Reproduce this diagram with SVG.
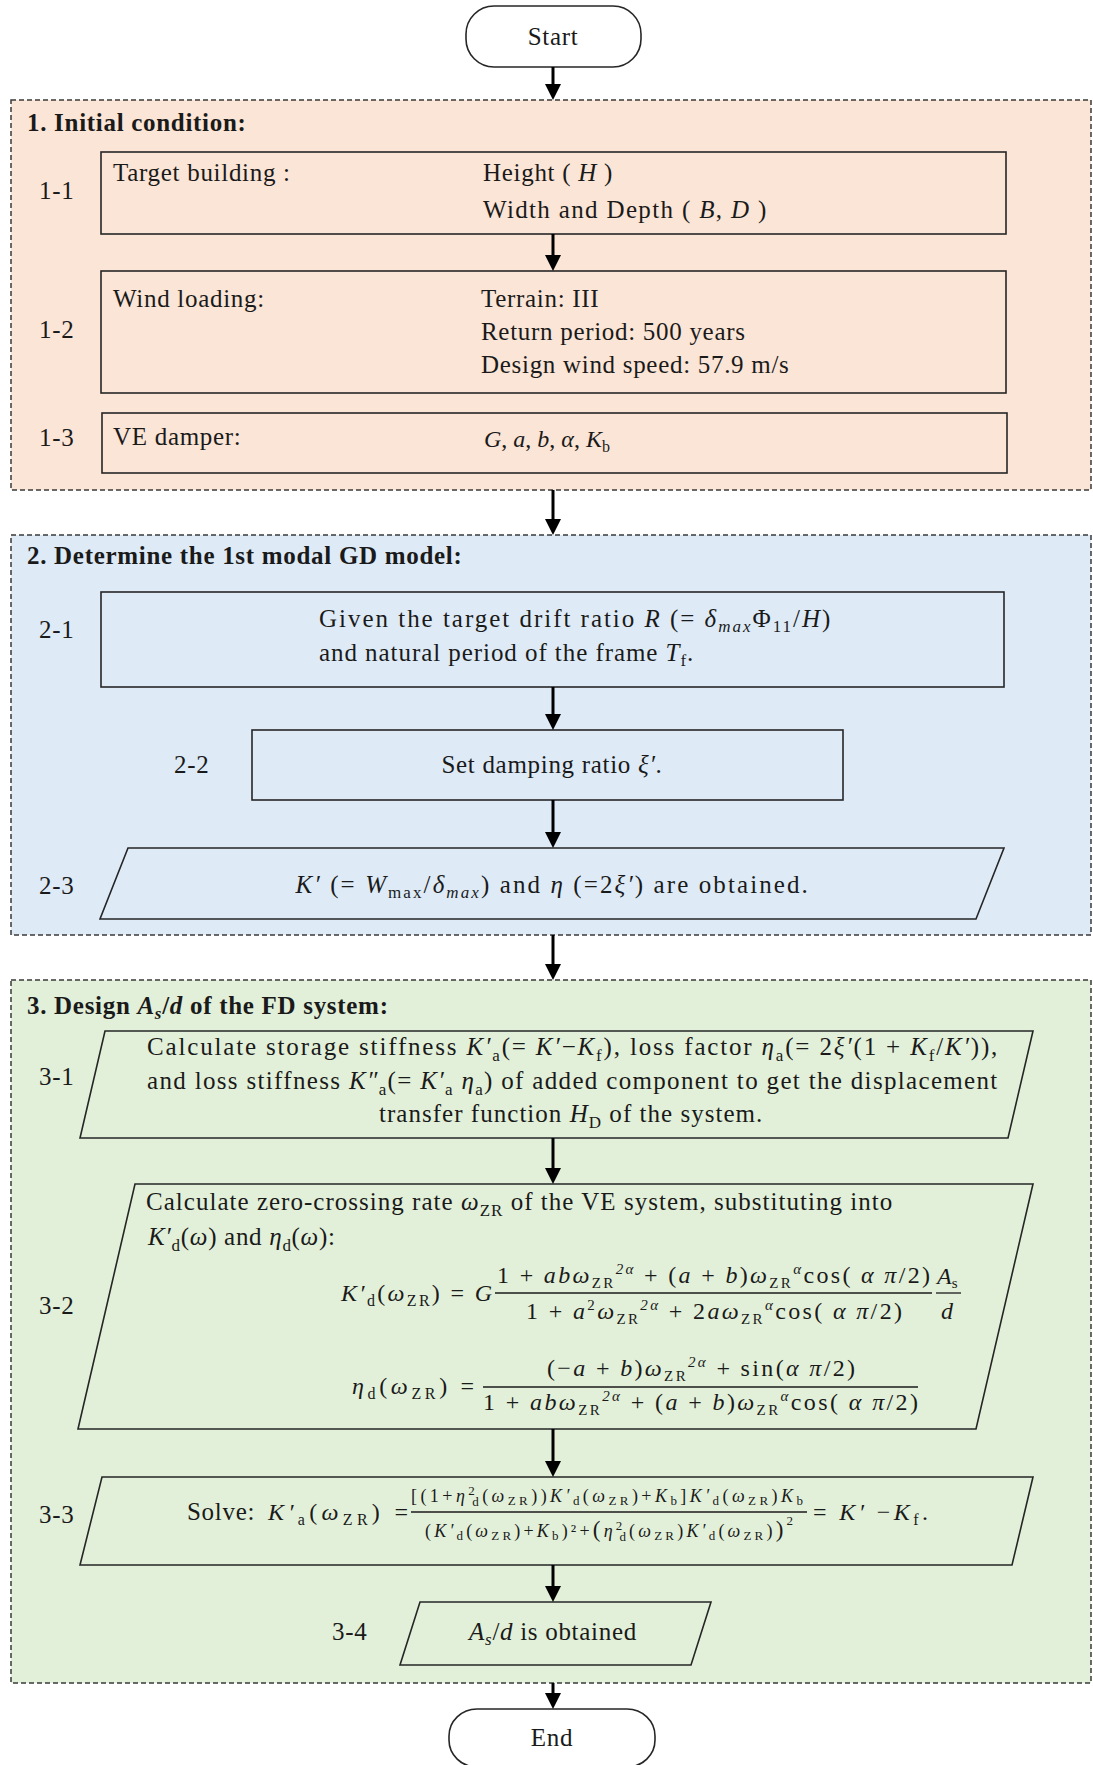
<svg xmlns="http://www.w3.org/2000/svg" width="1093" height="1765" viewBox="0 0 1093 1765">
<style>
text{font-family:"Liberation Serif","Times New Roman",serif;fill:#1a1a1a}
.t{font-size:25px;letter-spacing:0.7px}
.h{font-size:25px;font-weight:bold;letter-spacing:0.7px}
.m{font-size:24px}
.f{font-size:18px}
.i{font-style:italic}
.box{stroke:#262626;stroke-width:1.6;fill:none}
.sec{stroke:#3a3a3a;stroke-width:1.5;stroke-dasharray:5 3}
.term{fill:#ffffff;stroke:#262626;stroke-width:1.6}
.arr{stroke:#000;stroke-width:3;fill:none;marker-end:url(#ah)}
.bar{stroke:#1a1a1a;stroke-width:1.3}
</style>
<defs>
<marker id="ah" markerUnits="userSpaceOnUse" markerWidth="16" markerHeight="16" refX="12" refY="8" orient="auto" viewBox="0 0 16 16"><path d="M0,0 L16,8 L0,16 z" fill="#000"/></marker>
</defs>
<rect width="1093" height="1765" fill="#ffffff"/>

<g id="section1">
<rect class="sec" x="11" y="100" width="1080" height="390" fill="#FBE5D6"/>
<text class="h" x="27" y="131">1. Initial condition:</text>
</g>
<g id="section2">
<rect class="sec" x="11" y="535" width="1080" height="400" fill="#DEEBF7"/>
<text class="h" x="27" y="564">2. Determine the 1st modal GD model:</text>
</g>
<g id="section3">
<rect class="sec" x="11" y="980" width="1080" height="703" fill="#E2F0D9"/>
<text class="h" x="27" y="1014">3. Design <tspan class="i">A</tspan><tspan class="i" font-size="17" dy="5">s</tspan><tspan dy="-5">/</tspan><tspan class="i">d</tspan> of the FD system:</text>
</g>

<g id="start">
<rect class="term" x="466" y="6" width="175" height="61" rx="28" ry="28"/>
<text class="t" x="553" y="45" text-anchor="middle">Start</text>
</g>

<g id="n1-1">
<rect class="box" x="101" y="152" width="905" height="82"/>
<text class="t" x="39" y="199">1-1</text>
<text class="t" x="113" y="181">Target building :</text>
<text class="t" x="483" y="181">Height ( <tspan class="i">H</tspan> )</text>
<text class="t" x="483" y="218" textLength="284">Width and Depth  ( <tspan class="i">B</tspan>, <tspan class="i">D</tspan> )</text>
</g>

<g id="n1-2">
<rect class="box" x="101" y="271" width="905" height="122"/>
<text class="t" x="39" y="338">1-2</text>
<text class="t" x="113" y="307">Wind loading:</text>
<text class="t" x="481" y="307">Terrain: III</text>
<text class="t" x="481" y="340">Return period: 500 years</text>
<text class="t" x="481" y="373">Design wind speed: 57.9 m/s</text>
</g>

<g id="n1-3">
<rect class="box" x="102" y="413" width="905" height="60"/>
<text class="t" x="39" y="446">1-3</text>
<text class="t" x="113" y="445">VE damper:</text>
<text class="m" x="484" y="447"><tspan class="i">G</tspan>, <tspan class="i">a</tspan>, <tspan class="i">b</tspan>, <tspan class="i">α</tspan>, <tspan class="i">K</tspan><tspan font-size="16" dy="5">b</tspan></text>
</g>

<g id="n2-1">
<rect class="box" x="101" y="592" width="903" height="95"/>
<text class="t" x="39" y="638">2-1</text>
<text class="t" x="319" y="627" textLength="512">Given the target drift ratio <tspan class="i">R</tspan> (= <tspan class="i">δ</tspan><tspan class="i" font-size="17" dy="5">max</tspan><tspan dy="-5">Φ</tspan><tspan font-size="17" dy="5">11</tspan><tspan dy="-5">/</tspan><tspan class="i">H</tspan>)</text>
<text class="t" x="319" y="661" textLength="375">and natural period of the frame <tspan class="i">T</tspan><tspan font-size="17" dy="5">f</tspan><tspan dy="-5">.</tspan></text>
</g>

<g id="n2-2">
<rect class="box" x="252" y="730" width="591" height="70"/>
<text class="t" x="174" y="773">2-2</text>
<text class="t" x="552" y="773" text-anchor="middle">Set damping ratio <tspan class="i">ξ′</tspan>.</text>
</g>

<g id="n2-3">
<path class="box" d="M128,848 L1004,848 L976,919 L100,919 Z"/>
<text class="t" x="39" y="894">2-3</text>
<text class="t" x="552" y="893" text-anchor="middle" textLength="513"><tspan class="i">K′</tspan> (= <tspan class="i">W</tspan><tspan font-size="17" dy="5">max</tspan><tspan dy="-5">/</tspan><tspan class="i">δ</tspan><tspan class="i" font-size="17" dy="5">max</tspan><tspan dy="-5">) and </tspan><tspan class="i">η</tspan>  (=2<tspan class="i">ξ′</tspan>) are obtained.</text>
</g>

<g id="n3-1">
<path class="box" d="M105,1031 L1033,1031 L1008,1138 L80,1138 Z"/>
<text class="t" x="39" y="1085">3-1</text>
<text class="t" x="147" y="1055" textLength="851">Calculate storage stiffness <tspan class="i">K′</tspan><tspan font-size="17" dy="6">a</tspan><tspan dy="-6">(= </tspan><tspan class="i">K′</tspan>−<tspan class="i">K</tspan><tspan font-size="17" dy="6">f</tspan><tspan dy="-6">), loss factor </tspan><tspan class="i">η</tspan><tspan font-size="17" dy="6">a</tspan><tspan dy="-6">(= 2</tspan><tspan class="i">ξ′</tspan>(1 + <tspan class="i">K</tspan><tspan font-size="17" dy="6">f</tspan><tspan dy="-6">/</tspan><tspan class="i">K′</tspan>)),</text>
<text class="t" x="147" y="1089" textLength="851">and loss stiffness <tspan class="i">K″</tspan><tspan font-size="17" dy="6">a</tspan><tspan dy="-6">(= </tspan><tspan class="i">K′</tspan><tspan font-size="17" dy="6">a</tspan><tspan dy="-6"> </tspan><tspan class="i">η</tspan><tspan font-size="17" dy="6">a</tspan><tspan dy="-6">) of added component to get the displacement</tspan></text>
<text class="t" x="379" y="1122" textLength="384">transfer function <tspan class="i">H</tspan><tspan font-size="17" dy="6">D</tspan><tspan dy="-6"> of the system.</tspan></text>
</g>

<g id="n3-2">
<path class="box" d="M135,1184 L1033,1184 L976,1429 L78,1429 Z"/>
<text class="t" x="39" y="1314">3-2</text>
<text class="t" x="146" y="1210" textLength="747">Calculate zero-crossing rate <tspan class="i">ω</tspan><tspan font-size="17" dy="6">ZR</tspan><tspan dy="-6"> of the VE system, substituting into</tspan></text>
<text class="t" x="148" y="1245"><tspan class="i">K′</tspan><tspan font-size="17" dy="6">d</tspan><tspan dy="-6">(</tspan><tspan class="i">ω</tspan>) and <tspan class="i">η</tspan><tspan font-size="17" dy="6">d</tspan><tspan dy="-6">(</tspan><tspan class="i">ω</tspan>):</text>
<text class="m" x="341" y="1301" textLength="151"><tspan class="i">K′</tspan><tspan font-size="16" dy="5">d</tspan><tspan dy="-5">(</tspan><tspan class="i">ω</tspan><tspan font-size="16" dy="5">ZR</tspan><tspan dy="-5">) = </tspan><tspan class="i">G</tspan></text>
<text class="m" x="497" y="1283" textLength="433">1 + <tspan class="i">abω</tspan><tspan font-size="15" dy="5">ZR</tspan><tspan class="i" font-size="15" dy="-14">2α</tspan><tspan dy="9"> + (</tspan><tspan class="i">a</tspan> + <tspan class="i">b</tspan>)<tspan class="i">ω</tspan><tspan font-size="15" dy="5">ZR</tspan><tspan class="i" font-size="15" dy="-14">α</tspan><tspan dy="9">cos( </tspan><tspan class="i">α π</tspan>/2)</text>
<line class="bar" x1="495" y1="1293" x2="932" y2="1293"/>
<text class="m" x="526" y="1319" textLength="376">1 + <tspan class="i">a</tspan><tspan font-size="15" dy="-9">2</tspan><tspan class="i" dy="9">ω</tspan><tspan font-size="15" dy="5">ZR</tspan><tspan class="i" font-size="15" dy="-14">2α</tspan><tspan dy="9"> + 2</tspan><tspan class="i">aω</tspan><tspan font-size="15" dy="5">ZR</tspan><tspan class="i" font-size="15" dy="-14">α</tspan><tspan dy="9">cos( </tspan><tspan class="i">α π</tspan>/2)</text>
<text class="m" x="937" y="1284"><tspan class="i">A</tspan><tspan font-size="15" dy="4">s</tspan></text>
<line class="bar" x1="936" y1="1293" x2="961" y2="1293"/>
<text class="m i" x="941" y="1319">d</text>
<text class="m" x="352" y="1394" textLength="122"><tspan class="i">η</tspan><tspan font-size="16" dy="5">d</tspan><tspan dy="-5">(</tspan><tspan class="i">ω</tspan><tspan font-size="16" dy="5">ZR</tspan><tspan dy="-5">) =</tspan></text>
<text class="m" x="547" y="1376" textLength="308">(−<tspan class="i">a</tspan> + <tspan class="i">b</tspan>)<tspan class="i">ω</tspan><tspan font-size="15" dy="5">ZR</tspan><tspan class="i" font-size="15" dy="-14">2α</tspan><tspan dy="9"> + sin(</tspan><tspan class="i">α π</tspan>/2)</text>
<line class="bar" x1="483" y1="1387" x2="918" y2="1387"/>
<text class="m" x="483" y="1410" textLength="435">1 + <tspan class="i">abω</tspan><tspan font-size="15" dy="5">ZR</tspan><tspan class="i" font-size="15" dy="-14">2α</tspan><tspan dy="9"> + (</tspan><tspan class="i">a</tspan> + <tspan class="i">b</tspan>)<tspan class="i">ω</tspan><tspan font-size="15" dy="5">ZR</tspan><tspan class="i" font-size="15" dy="-14">α</tspan><tspan dy="9">cos( </tspan><tspan class="i">α π</tspan>/2)</text>
</g>

<g id="n3-3">
<path class="box" d="M102,1477 L1033,1477 L1012,1565 L80,1565 Z"/>
<text class="t" x="39" y="1523">3-3</text>
<text class="t" x="187" y="1520">Solve:</text>
<text class="m" x="268" y="1520" textLength="140"><tspan class="i">K′</tspan><tspan font-size="16" dy="5">a</tspan><tspan dy="-5">(</tspan><tspan class="i">ω</tspan><tspan font-size="16" dy="5">ZR</tspan><tspan dy="-5">) =</tspan></text>
<text class="f" x="411" y="1502" textLength="392">[(1+<tspan class="i">η</tspan><tspan font-size="13" dy="-7">2</tspan><tspan font-size="13" dx="-6" dy="11">d</tspan><tspan dy="-4">(</tspan><tspan class="i">ω</tspan><tspan font-size="13" dy="3">ZR</tspan><tspan dy="-3">))</tspan><tspan class="i">K′</tspan><tspan font-size="13" dy="3">d</tspan><tspan dy="-3">(</tspan><tspan class="i">ω</tspan><tspan font-size="13" dy="3">ZR</tspan><tspan dy="-3">)+</tspan><tspan class="i">K</tspan><tspan font-size="13" dy="3">b</tspan><tspan dy="-3">]</tspan><tspan class="i">K′</tspan><tspan font-size="13" dy="3">d</tspan><tspan dy="-3">(</tspan><tspan class="i">ω</tspan><tspan font-size="13" dy="3">ZR</tspan><tspan dy="-3">)</tspan><tspan class="i">K</tspan><tspan font-size="13" dy="3">b</tspan></text>
<line class="bar" x1="411" y1="1512" x2="807" y2="1512"/>
<text class="f" x="425" y="1537" textLength="368">(<tspan class="i">K′</tspan><tspan font-size="13" dy="3">d</tspan><tspan dy="-3">(</tspan><tspan class="i">ω</tspan><tspan font-size="13" dy="3">ZR</tspan><tspan dy="-3">)+</tspan><tspan class="i">K</tspan><tspan font-size="13" dy="3">b</tspan><tspan dy="-3">)²+</tspan><tspan font-size="23">(</tspan><tspan class="i">η</tspan><tspan font-size="13" dy="-7">2</tspan><tspan font-size="13" dx="-6" dy="11">d</tspan><tspan dy="-4">(</tspan><tspan class="i">ω</tspan><tspan font-size="13" dy="3">ZR</tspan><tspan dy="-3">)</tspan><tspan class="i">K′</tspan><tspan font-size="13" dy="3">d</tspan><tspan dy="-3">(</tspan><tspan class="i">ω</tspan><tspan font-size="13" dy="3">ZR</tspan><tspan dy="-3">)</tspan><tspan font-size="23">)</tspan><tspan font-size="13" dy="-12">2</tspan></text>
<text class="m" x="813" y="1520" textLength="115">= <tspan class="i">K′</tspan> −<tspan class="i">K</tspan><tspan font-size="16" dy="5">f</tspan><tspan dy="-5">.</tspan></text>
</g>

<g id="n3-4">
<path class="box" d="M420,1602 L711,1602 L691,1665 L400,1665 Z"/>
<text class="t" x="332" y="1640">3-4</text>
<text class="t" x="553" y="1640" text-anchor="middle"><tspan class="i">A</tspan><tspan class="i" font-size="17" dy="5">s</tspan><tspan dy="-5">/</tspan><tspan class="i">d</tspan> is obtained</text>
</g>

<g id="end">
<rect class="term" x="449" y="1709" width="206" height="58" rx="28" ry="27"/>
<text class="t" x="552" y="1746" text-anchor="middle">End</text>
</g>

<g id="connectors">
<line class="arr" x1="553" y1="67" x2="553" y2="96"/>
<line class="arr" x1="553" y1="234" x2="553" y2="267"/>
<line class="arr" x1="553" y1="490" x2="553" y2="531"/>
<line class="arr" x1="553" y1="687" x2="553" y2="726"/>
<line class="arr" x1="553" y1="800" x2="553" y2="844"/>
<line class="arr" x1="553" y1="935" x2="553" y2="976"/>
<line class="arr" x1="553" y1="1138" x2="553" y2="1180"/>
<line class="arr" x1="553" y1="1429" x2="553" y2="1473"/>
<line class="arr" x1="553" y1="1565" x2="553" y2="1598"/>
<line class="arr" x1="553" y1="1683" x2="553" y2="1705"/>
</g>
</svg>
